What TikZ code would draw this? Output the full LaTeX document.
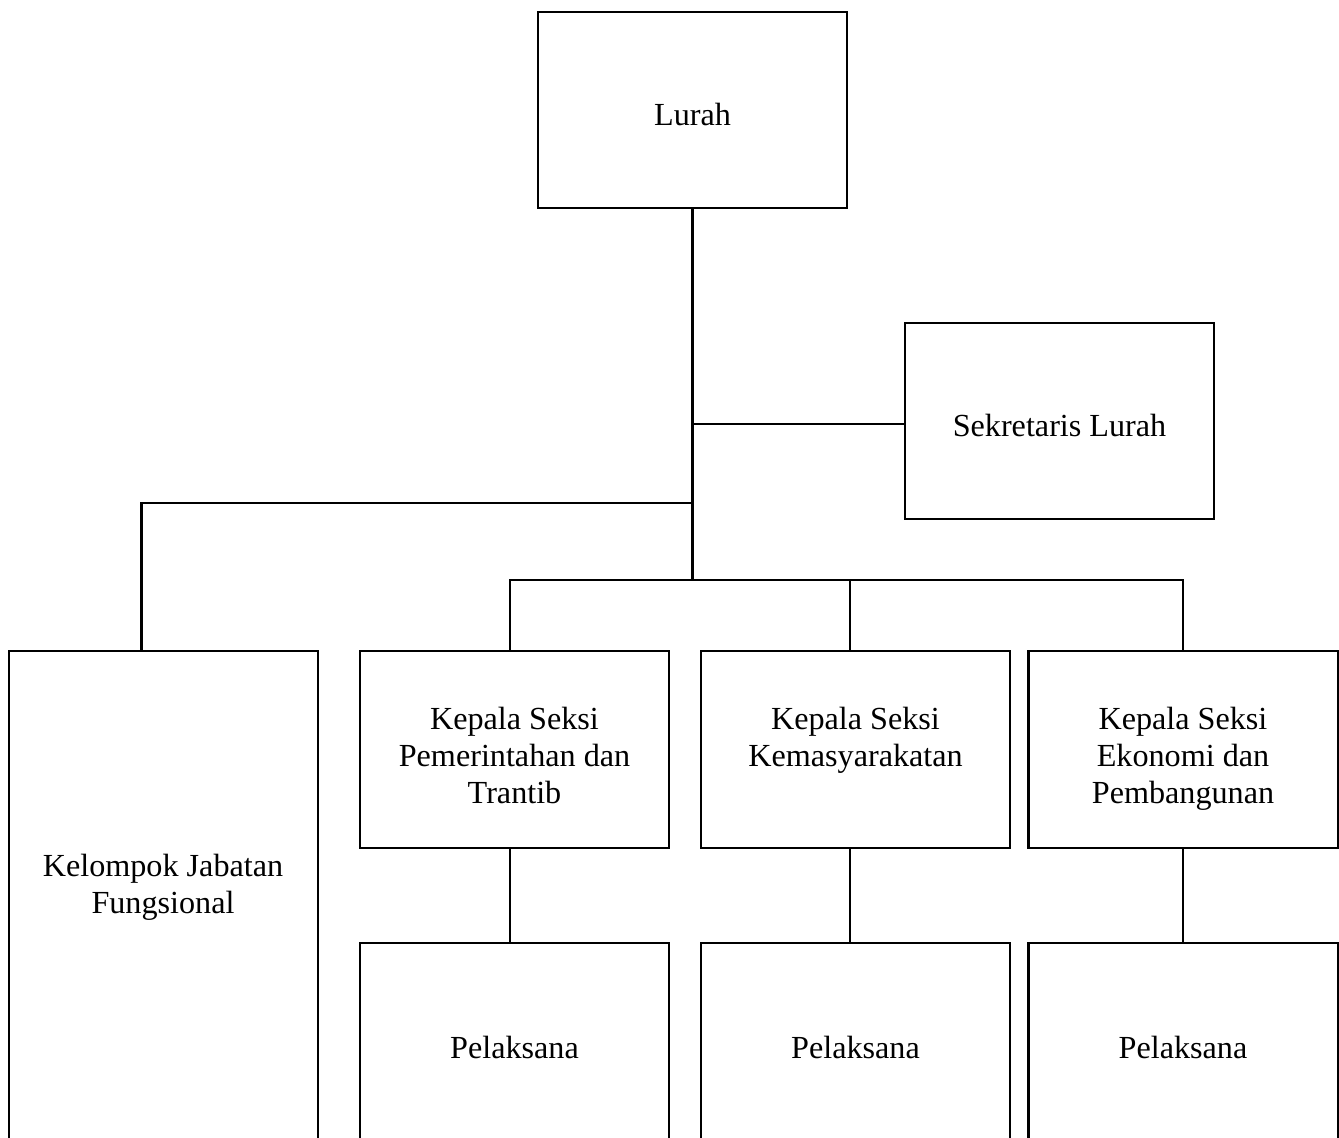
\documentclass[tikz,border=0pt]{standalone}
\usepackage{fontspec}
\setmainfont{Liberation Serif}
\usetikzlibrary{positioning}

\newcommand{\liftone}{\rule{0pt}{12pt}}
\newcommand{\lifttop}{\rule{0pt}{15.3pt}}
\newcommand{\liftend}{\rule[-3pt]{0pt}{3pt}}

\begin{document}
\begin{tikzpicture}[x=0.373pt,y=-0.373pt,line width=0.8pt,
  unit/.style={draw,rectangle,outer sep=0pt,minimum width=115.3pt,minimum height=73.3pt,
    align=center,font=\fontsize{12}{13.8}\selectfont},
  txt/.style={align=center,font=\fontsize{12}{13.8}\selectfont}]

        \useasboundingbox (0,0) rectangle (1339,1137);
        \clip (0,0) rectangle (1339,1137);

        \node[unit] (lurah) at (692.5,110) {\liftone Lurah};
        \node[unit] (sekre) at (1059.5,421) {\liftone Sekretaris Lurah};

        \node[unit] (kspem) at (514.5,749.5) {\lifttop Kepala Seksi\\Pemerintahan dan\\Trantib\liftend};
        \node[unit] (kskem) at (855.5,749.5) {\lifttop Kepala Seksi\\Kemasyarakatan\\\liftend};
        \node[unit] (kseko) at (1183,749.5) {\lifttop Kepala Seksi\\Ekonomi dan\\Pembangunan\liftend};

        \node[unit,minimum height=78.3pt] (plpem) [below = 35.4pt of kspem] {Pelaksana};
        \node[unit,minimum height=78.3pt] (plkem) [below = 35.4pt of kskem] {Pelaksana};
        \node[unit,minimum height=78.3pt] (pleko) [below = 35.4pt of kseko] {Pelaksana};

        \node[unit,anchor=north,minimum height=224pt] (kjf) at (163.5,651) {};
        \node[txt] (kjftext) at (163,887) {Kelompok Jabatan\\Fungsional};

        \coordinate (split) at (692.5,503);
        \coordinate (hub) at (692.5,580);

        \draw (lurah) -- (hub);
        \draw ([yshift=-1.1pt]sekre.west) -- ([yshift=-1.1pt]sekre.west -| lurah);
        \draw ([xshift=-8.2pt]kjf.north) |- (split);
        \draw ([xshift=-1.7pt]kspem.north) |- (hub) -| (kseko.north);
        \draw ([xshift=-2pt]kskem.north) -- ([xshift=-2pt]kskem.north |- hub);

        \draw ([xshift=-1.7pt]kspem.south) -- ([xshift=-1.7pt]plpem.north);
        \draw ([xshift=-2pt]kskem.south) -- ([xshift=-2pt]plkem.north);
        \draw (kseko) -- (pleko);
      \end{tikzpicture}
\end{document}
